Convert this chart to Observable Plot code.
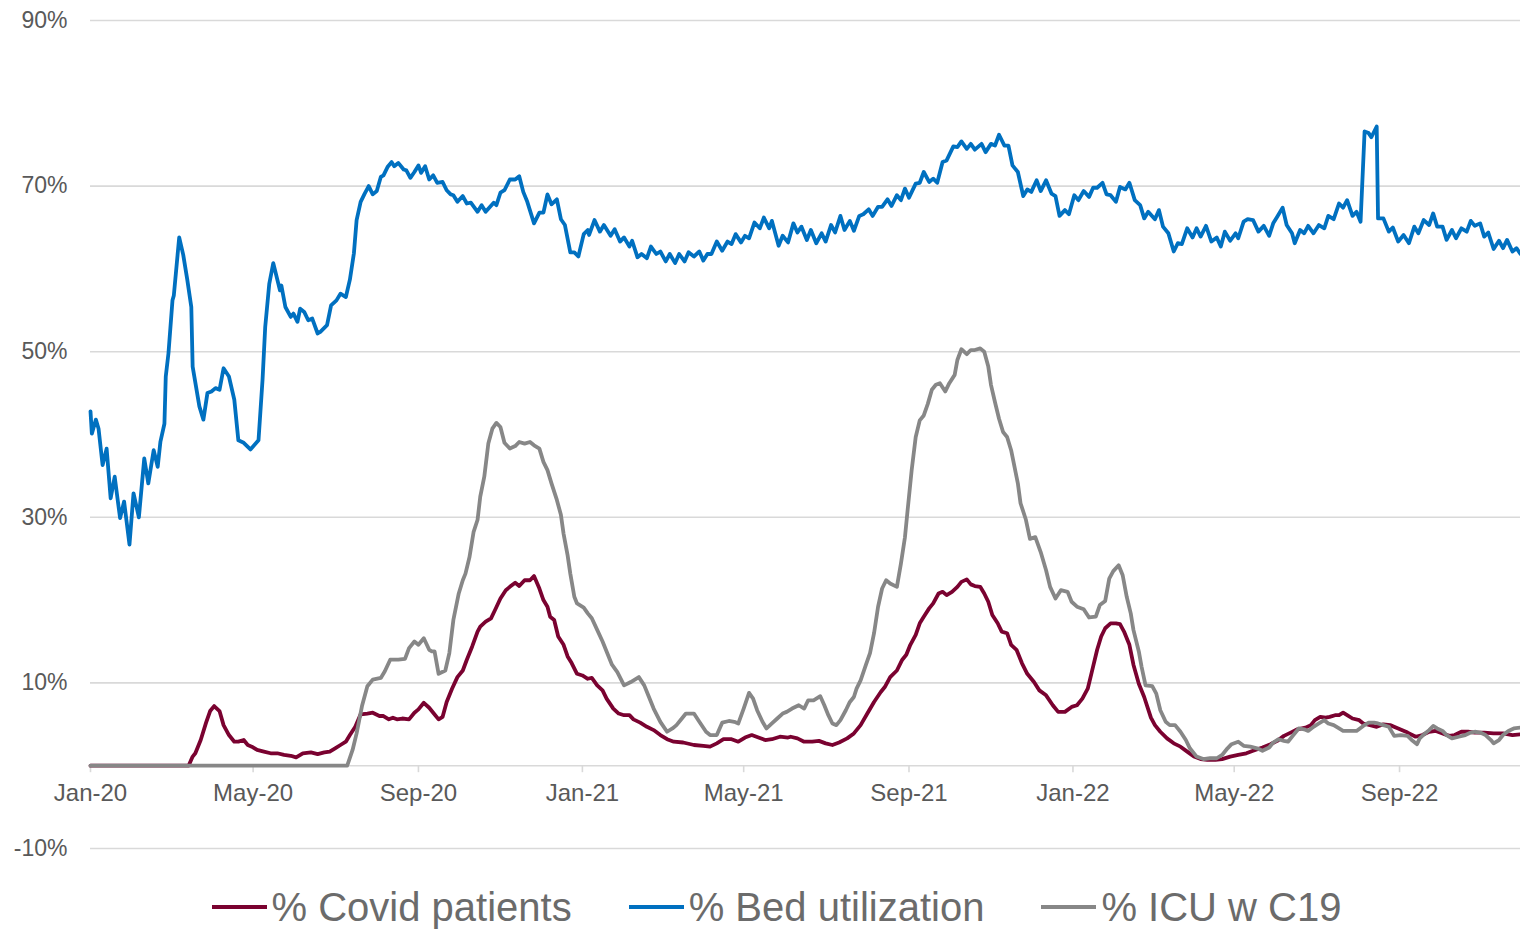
<!DOCTYPE html>
<html><head><meta charset="utf-8">
<script src="https://cdn.jsdelivr.net/npm/d3@7"></script>
<script src="https://cdn.jsdelivr.net/npm/@observablehq/plot@0.6"></script>
<style>
html,body{margin:0;padding:0;background:#fff;}
#chart{width:1520px;}
.legend{display:flex;justify-content:center;align-items:center;padding-left:33px;margin-top:14px;font-family:"Liberation Sans",Arial,sans-serif;font-size:40px;color:#6b6b6b;line-height:46px;white-space:nowrap;}
.item{display:flex;align-items:center;margin-right:57px}
.item:last-child{margin-right:0}
.sw{width:55px;height:4px;margin-right:5px;}
</style></head><body><div id="chart"></div><div class="legend" id="legend"></div>
<script>
// [days since 2020-01-01, percent]
const covidPatients = [[0,0],[73,0],[76,1.1],[78,1.5],[82,3.1],[86,5.2],[89,6.6],[92,7.2],[96,6.6],[99,4.9],[103,3.7],[107,2.9],[110,2.9],[114,3.1],[117,2.5],[120,2.3],[124,1.9],[129,1.7],[134,1.5],[139,1.5],[144,1.3],[149,1.2],[153,1.0],[158,1.5],[164,1.6],[169,1.4],[174,1.6],[178,1.7],[182,2.1],[186,2.5],[190,2.9],[193,3.7],[197,4.7],[201,6.2],[206,6.3],[210,6.4],[215,6.0],[218,6.0],[222,5.6],[225,5.8],[228,5.6],[232,5.7],[237,5.6],[241,6.4],[244,6.8],[248,7.6],[252,7.0],[255,6.4],[259,5.6],[262,5.9],[265,7.7],[269,9.3],[273,10.7],[277,11.5],[280,12.8],[284,14.4],[288,16.2],[290,16.8],[294,17.4],[298,17.8],[301,18.8],[305,20.2],[309,21.2],[312,21.6],[316,22.1],[319,21.7],[323,22.4],[327,22.4],[330,22.9],[334,21.4],[337,20.0],[340,19.2],[342,18.0],[345,17.6],[348,15.6],[352,14.6],[355,13.2],[358,12.4],[362,11.1],[366,10.9],[370,10.5],[373,10.6],[377,9.7],[381,9.1],[384,8.1],[389,6.9],[393,6.3],[397,6.1],[401,6.1],[404,5.6],[409,5.2],[414,4.7],[419,4.3],[424,3.7],[429,3.2],[434,2.9],[441,2.8],[449,2.5],[456,2.4],[461,2.3],[466,2.7],[471,3.2],[477,3.2],[482,2.9],[487,3.4],[492,3.7],[497,3.4],[502,3.1],[507,3.2],[513,3.5],[519,3.4],[521,3.5],[526,3.3],[531,2.9],[537,2.9],[542,3.0],[547,2.7],[552,2.5],[557,2.8],[563,3.3],[568,3.9],[573,4.9],[578,6.3],[583,7.7],[588,8.9],[591,9.5],[595,10.7],[600,11.5],[604,12.8],[607,13.4],[610,14.6],[614,15.8],[617,17.2],[620,18.0],[624,19.0],[627,19.6],[631,20.8],[634,21.0],[637,20.6],[641,21.0],[645,21.6],[648,22.2],[652,22.5],[655,21.9],[658,21.7],[662,21.6],[665,20.8],[668,19.8],[671,18.2],[675,17.2],[678,16.2],[682,16.0],[685,14.6],[689,14.0],[693,12.4],[697,11.1],[702,10.1],[706,9.1],[711,8.5],[716,7.3],[720,6.5],[725,6.5],[730,7.1],[734,7.3],[738,8.1],[742,9.3],[745,11.3],[749,14.0],[752,15.6],[755,16.6],[759,17.2],[763,17.2],[766,17.1],[769,16.2],[773,14.6],[776,12.2],[780,9.9],[784,8.3],[789,5.8],[792,4.9],[796,4.1],[801,3.3],[806,2.7],[811,2.3],[816,1.7],[821,1.1],[826,0.8],[831,0.7],[837,0.7],[842,0.8],[848,1.1],[854,1.3],[860,1.5],[865,1.8],[872,2.2],[878,2.6],[883,3.0],[888,3.6],[893,4.0],[898,4.4],[904,4.6],[908,4.9],[911,5.5],[915,5.9],[919,5.8],[922,5.9],[926,6.1],[929,6.1],[932,6.4],[935,6.1],[939,5.7],[944,5.5],[947,5.1],[952,4.9],[957,4.7],[962,5.0],[967,4.9],[973,4.5],[980,4.0],[986,3.5],[991,3.7],[996,4.1],[1001,4.2],[1006,3.9],[1011,3.6],[1015,3.7],[1020,4.1],[1025,4.1],[1030,4.0],[1037,4.0],[1044,3.9],[1051,3.9],[1058,3.7],[1064,3.8]];

const bedUtilization = [[0,42.8],[1,40.1],[4,41.8],[6,40.7],[9,36.3],[12,38.3],[15,32.3],[18,34.9],[22,29.9],[25,31.9],[29,26.7],[32,32.9],[36,30.0],[40,37.1],[43,34.1],[47,38.1],[50,36.1],[52,39.1],[55,41.3],[56,47.0],[58,49.8],[61,56.2],[62,56.8],[66,63.8],[69,61.7],[72,58.7],[75,55.4],[76,48.2],[81,43.4],[84,41.8],[87,45.0],[90,45.2],[93,45.6],[96,45.4],[99,48.0],[103,47.0],[107,44.2],[110,39.3],[114,39.0],[119,38.2],[125,39.3],[128,46.6],[130,53.0],[133,58.2],[136,60.7],[141,57.4],[142,58.0],[145,55.4],[149,54.2],[151,54.6],[154,53.6],[156,55.2],[159,54.8],[162,53.8],[165,54.0],[169,52.2],[171,52.4],[176,53.2],[179,55.6],[183,56.2],[186,57.0],[190,56.6],[193,58.7],[196,61.9],[198,65.9],[201,68.1],[204,69.1],[207,70.0],[210,69.0],[213,69.4],[216,71.1],[218,71.3],[221,72.3],[224,72.9],[226,72.4],[229,72.8],[233,72.0],[235,71.9],[238,71.0],[241,71.7],[244,72.5],[246,71.6],[249,72.4],[252,70.8],[255,71.3],[258,70.4],[262,70.5],[265,69.5],[268,69.0],[270,68.9],[273,68.1],[277,68.8],[280,67.9],[283,68.0],[288,66.9],[291,67.7],[294,66.9],[300,68.0],[302,67.7],[305,69.2],[308,69.5],[312,70.8],[316,70.8],[319,71.2],[322,69.3],[325,68.1],[330,65.5],[334,66.8],[337,66.8],[340,69.0],[343,67.8],[347,68.4],[350,66.0],[353,65.3],[357,62.0],[360,62.0],[363,61.5],[367,64.2],[370,64.7],[371,64.1],[375,65.9],[379,64.5],[382,65.3],[387,64.0],[390,64.8],[394,63.3],[397,63.8],[401,62.7],[403,63.4],[407,61.4],[410,61.8],[414,61.3],[417,62.7],[421,61.8],[424,62.1],[428,60.9],[431,61.8],[435,60.7],[438,61.8],[442,60.9],[445,62.0],[449,61.5],[453,62.1],[456,61.0],[459,61.8],[462,61.8],[466,63.3],[470,62.2],[474,63.3],[477,63.0],[480,64.2],[484,63.2],[487,64.0],[490,63.7],[494,65.6],[498,64.9],[501,66.2],[505,64.9],[507,65.8],[512,62.8],[515,64.0],[519,63.2],[523,65.5],[526,64.4],[529,65.1],[533,63.5],[536,64.7],[540,63.1],[544,64.3],[547,63.3],[551,65.3],[554,64.4],[558,66.4],[561,64.7],[565,65.8],[568,64.6],[572,66.4],[575,66.6],[579,67.2],[582,66.4],[586,67.5],[589,67.5],[593,68.4],[596,67.6],[600,68.9],[603,68.3],[606,69.7],[609,68.6],[614,70.3],[617,70.4],[620,71.7],[624,70.5],[627,70.9],[630,70.4],[634,72.9],[637,73.1],[642,74.8],[645,74.7],[648,75.4],[652,74.5],[655,75.1],[658,74.4],[663,75.1],[666,74.1],[670,75.1],[673,74.9],[676,76.2],[680,74.9],[683,74.9],[686,72.5],[690,71.7],[694,68.8],[697,69.6],[700,69.3],[704,70.7],[707,69.4],[711,70.7],[715,69.1],[718,68.8],[721,66.4],[725,67.1],[728,66.6],[732,68.9],[735,68.3],[739,69.4],[743,68.7],[746,69.8],[749,69.8],[753,70.4],[756,69.0],[759,68.9],[763,68.1],[766,69.9],[770,69.6],[773,70.4],[777,68.3],[781,67.7],[784,66.1],[787,66.9],[792,66.0],[795,67.1],[798,65.1],[802,64.3],[806,62.1],[809,63.1],[812,63.0],[816,64.9],[820,63.8],[823,64.9],[826,63.9],[830,65.2],[834,63.3],[838,63.8],[841,62.7],[844,64.5],[848,63.4],[852,64.3],[854,63.7],[858,65.7],[861,66.0],[865,65.9],[869,64.5],[873,65.2],[877,64.0],[880,65.5],[883,66.3],[887,67.4],[890,65.3],[894,64.3],[896,63.1],[900,64.7],[903,64.3],[906,65.2],[910,64.3],[914,65.3],[918,64.9],[921,66.4],[925,66.0],[929,67.9],[932,67.4],[935,68.3],[939,66.4],[942,66.9],[945,65.7],[948,76.6],[951,76.4],[953,75.9],[957,77.2],[958,66.1],[962,66.1],[966,64.5],[969,65.0],[973,63.3],[977,64.1],[981,63.1],[985,65.1],[988,64.3],[992,65.9],[996,65.3],[999,66.7],[1002,65.1],[1006,65.1],[1009,63.5],[1013,64.7],[1016,63.7],[1020,64.9],[1024,64.5],[1027,65.8],[1030,65.2],[1034,65.5],[1037,63.9],[1040,64.4],[1044,62.4],[1048,63.4],[1051,62.5],[1054,63.5],[1058,62.1],[1061,62.5],[1064,61.8]];

const icuWithC19 = [[0,0],[191,0],[195,1.9],[198,3.9],[202,7.2],[206,9.6],[210,10.4],[216,10.6],[219,11.4],[223,12.8],[229,12.8],[234,12.9],[237,14.2],[241,15.0],[244,14.6],[248,15.4],[252,14.0],[254,13.8],[256,13.8],[259,11.1],[264,11.5],[267,13.6],[270,17.6],[274,20.8],[277,22.4],[279,23.2],[282,25.2],[285,28.2],[288,29.7],[290,32.5],[293,34.9],[296,38.9],[299,40.7],[302,41.4],[305,40.9],[308,39.0],[312,38.3],[316,38.6],[319,39.1],[323,38.9],[327,39.1],[330,38.7],[334,38.3],[337,36.7],[340,35.7],[343,34.1],[347,32.1],[350,30.3],[352,28.0],[355,25.4],[357,23.2],[360,20.4],[362,19.6],[367,19.1],[370,18.4],[373,17.8],[377,16.4],[381,15.0],[384,13.8],[388,12.2],[392,11.3],[397,9.7],[402,10.1],[408,10.7],[412,9.7],[415,8.5],[419,6.9],[424,5.3],[429,4.1],[433,4.5],[436,4.9],[440,5.7],[443,6.3],[449,6.3],[453,5.3],[458,4.1],[461,3.7],[466,3.7],[470,5.2],[475,5.4],[479,5.3],[482,5.1],[486,6.9],[490,8.8],[493,8.1],[496,6.7],[500,5.3],[503,4.5],[507,5.1],[511,5.7],[515,6.3],[518,6.5],[522,6.9],[527,7.3],[531,6.9],[534,7.9],[538,7.9],[543,8.4],[546,7.3],[549,6.1],[552,5.1],[555,4.9],[558,5.5],[562,6.7],[565,7.7],[568,8.3],[570,9.3],[573,10.3],[577,12.2],[580,13.6],[583,16.0],[586,19.2],[589,21.4],[592,22.4],[595,22.0],[600,21.6],[603,24.4],[606,27.6],[608,30.9],[611,35.7],[614,39.7],[617,41.7],[620,42.3],[623,43.7],[626,45.4],[629,46.0],[632,46.2],[636,45.2],[639,46.2],[643,47.2],[645,49.0],[648,50.3],[652,49.7],[655,50.2],[658,50.2],[662,50.4],[665,50.0],[668,48.2],[670,46.0],[673,43.9],[676,41.9],[679,40.3],[682,39.7],[685,38.1],[687,36.5],[690,34.1],[692,31.7],[696,29.7],[699,27.4],[703,27.6],[707,25.8],[711,23.6],[714,21.6],[718,20.2],[722,21.2],[727,21.0],[730,19.8],[734,19.2],[739,18.9],[743,17.9],[748,18.0],[751,19.4],[755,19.9],[758,22.6],[761,23.5],[765,24.2],[768,23.0],[771,20.4],[774,18.4],[776,16.4],[780,13.8],[782,12.0],[785,9.7],[790,9.6],[793,8.7],[796,6.7],[800,5.3],[803,4.9],[807,4.9],[811,4.1],[815,3.1],[818,2.1],[823,1.1],[828,0.8],[833,0.9],[838,0.9],[842,1.3],[846,2.1],[849,2.6],[854,2.9],[858,2.4],[863,2.3],[868,2.1],[872,1.8],[877,2.2],[880,2.8],[884,3.2],[888,3.0],[891,2.9],[895,3.7],[899,4.5],[903,4.4],[906,4.2],[910,4.7],[914,5.1],[918,5.5],[921,5.1],[925,4.9],[929,4.5],[932,4.2],[937,4.2],[942,4.2],[947,4.8],[951,5.2],[955,5.2],[958,5.1],[962,4.9],[966,4.7],[970,3.6],[975,3.7],[980,3.6],[983,3.1],[987,2.6],[989,3.3],[993,3.9],[996,4.3],[999,4.8],[1002,4.5],[1006,4.2],[1009,3.7],[1013,3.3],[1018,3.5],[1023,3.7],[1027,4.0],[1030,4.1],[1034,4.0],[1038,3.7],[1042,3.1],[1044,2.7],[1048,3.1],[1051,3.7],[1055,4.2],[1059,4.5],[1064,4.6]];

const seriesNames = ["% Covid patients", "% Bed utilization", "% ICU w C19"];
const seriesColors = ["#7a0230", "#0070c0", "#878787"];
const seriesData = [covidPatients, bedUtilization, icuWithC19];
const yTicks = [-10, 10, 30, 50, 70, 90];
const xTicks = ["2020-01-01","2020-05-01","2020-09-01","2021-01-01","2021-05-01","2021-09-01","2022-01-01","2022-05-01","2022-09-01"];

const startDate = new Date(Date.UTC(2020, 0, 1));
const toDate = d => new Date(startDate.getTime() + d * 864e5);
const rows = seriesData.flatMap((arr, i) => arr.map(([d, v]) => ({series: seriesNames[i], date: toDate(d), value: v})));
const xTickDates = xTicks.map(s => new Date(s + "T00:00:00Z"));
const lastDay = d3.max(seriesData.flat(), p => p[0]);
const fmt = d3.utcFormat("%b-%y");

const chart = Plot.plot({
  width: 1520,
  height: 870,
  marginLeft: 90,
  marginRight: 0,
  marginTop: 20,
  marginBottom: 22,
  style: {fontFamily: "'Liberation Sans', Arial, sans-serif", color: "#595959", background: "#fff", overflow: "visible"},
  x: {type: "utc", domain: [startDate, toDate(lastDay)], axis: null},
  y: {domain: [-10, 90], axis: null, label: null},
  color: {domain: seriesNames, range: seriesColors},
  marks: [
    Plot.ruleY(yTicks.concat([0]), {stroke: "#d9d9d9", strokeWidth: 1.6}),
    Plot.axisY(yTicks, {label: null, tickSize: 0, tickPadding: 23, tickFormat: d => d + "%", fontSize: 23, fill: "#595959"}),
    Plot.ruleX(xTickDates, {x: d => d, y1: 0, y2: 0, insetBottom: -7, stroke: "#d9d9d9", strokeWidth: 1.6}),
    Plot.text(xTickDates, {x: d => d, y: 0, dy: 28, text: d => fmt(d), fontSize: 24, fill: "#595959"}),
    Plot.line(rows, {x: "date", y: "value", z: "series", stroke: "series", strokeWidth: 3.8, strokeLinejoin: "round", strokeLinecap: "round"})
  ]
});
document.getElementById("chart").appendChild(chart);

const legend = document.getElementById("legend");
seriesNames.forEach((name, i) => {
  const item = document.createElement("div");
  item.className = "item";
  const sw = document.createElement("span");
  sw.className = "sw";
  sw.style.background = seriesColors[i];
  const t = document.createElement("span");
  t.textContent = name;
  item.appendChild(sw); item.appendChild(t);
  legend.appendChild(item);
});
</script></body></html>
